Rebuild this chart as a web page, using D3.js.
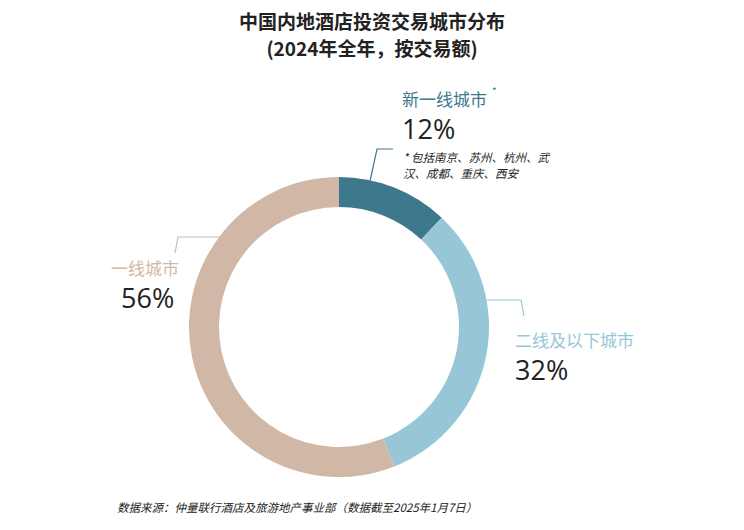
<!DOCTYPE html>
<html><head><meta charset="utf-8">
<script src="https://cdn.jsdelivr.net/npm/d3@7"></script>
<style>
body{margin:0;background:#fff;font-family:"Noto Sans CJK SC","Noto Sans",sans-serif;}
</style></head><body>
<svg width="744" height="530"></svg>
<script>
const categories = ["新一线城市", "二线及以下城市", "一线城市"];
const shares = [12, 32, 56];
const colors = ["#3d788c", "#97c6d6", "#d1b8a6"];

const svg = d3.select("svg");
const cx = 339, cy = 327, outerR = 150, innerR = 120;

svg.append("text").attr("x", 372).attr("y", 29).attr("text-anchor", "middle")
  .attr("font-size", 19).attr("font-weight", "bold").attr("fill", "#222")
  .text("中国内地酒店投资交易城市分布");
svg.append("text").attr("x", 372).attr("y", 56).attr("text-anchor", "middle")
  .attr("font-size", 19).attr("font-weight", "bold").attr("fill", "#222")
  .text("(2024年全年，按交易额)");

const pie = d3.pie().sort(null).value(d => d);
const arc = d3.arc().innerRadius(innerR).outerRadius(outerR);
const g = svg.append("g").attr("transform", `translate(${cx},${cy})`);
g.selectAll("path").data(pie(shares)).enter().append("path")
  .attr("d", arc).attr("fill", (d, i) => colors[i]);

// leader lines
const leaders = [
  [[370, 181], [377, 149], [393, 149]],
  [[487, 300], [521, 300], [524, 316]],
  [[175, 253], [178, 237], [220, 237]]
];
leaders.forEach((pts, i) => {
  svg.append("path").attr("d", d3.line()(pts)).attr("fill", "none")
    .attr("stroke", colors[i]).attr("stroke-width", 1.2);
});

const labelPos = [[402, 106, "start"], [515, 347, "start"], [179, 275, "end"]];
categories.forEach((c, i) => {
  const [x, y, a] = labelPos[i];
  svg.append("text").attr("x", x).attr("y", y).attr("text-anchor", a)
    .attr("font-size", 17).attr("fill", colors[i]).text(c);
  svg.append("text").attr("x", a === "end" ? x - 58 : x).attr("y", y + 33)
    .attr("text-anchor", "start")
    .attr("font-size", 27).attr("font-family", "'Open Sans',sans-serif")
    .attr("fill", "#222").text(shares[i] + "%");
});
svg.append("text").attr("x", 492).attr("y", 95).attr("font-size", 10)
  .attr("fill", colors[0]).text("*");

svg.append("text").attr("x", 403).attr("y", 162).attr("font-size", 11.5)
  .attr("font-style", "italic").attr("fill", "#222").text("* 包括南京、苏州、杭州、武");
svg.append("text").attr("x", 403).attr("y", 178).attr("font-size", 11.5)
  .attr("font-style", "italic").attr("fill", "#222").text("汉、成都、重庆、西安");

svg.append("text").attr("x", 117).attr("y", 512).attr("font-size", 11.5)
  .attr("font-style", "italic").attr("fill", "#222")
  .text("数据来源：仲量联行酒店及旅游地产事业部（数据截至2025年1月7日）");
</script>
</body></html>
